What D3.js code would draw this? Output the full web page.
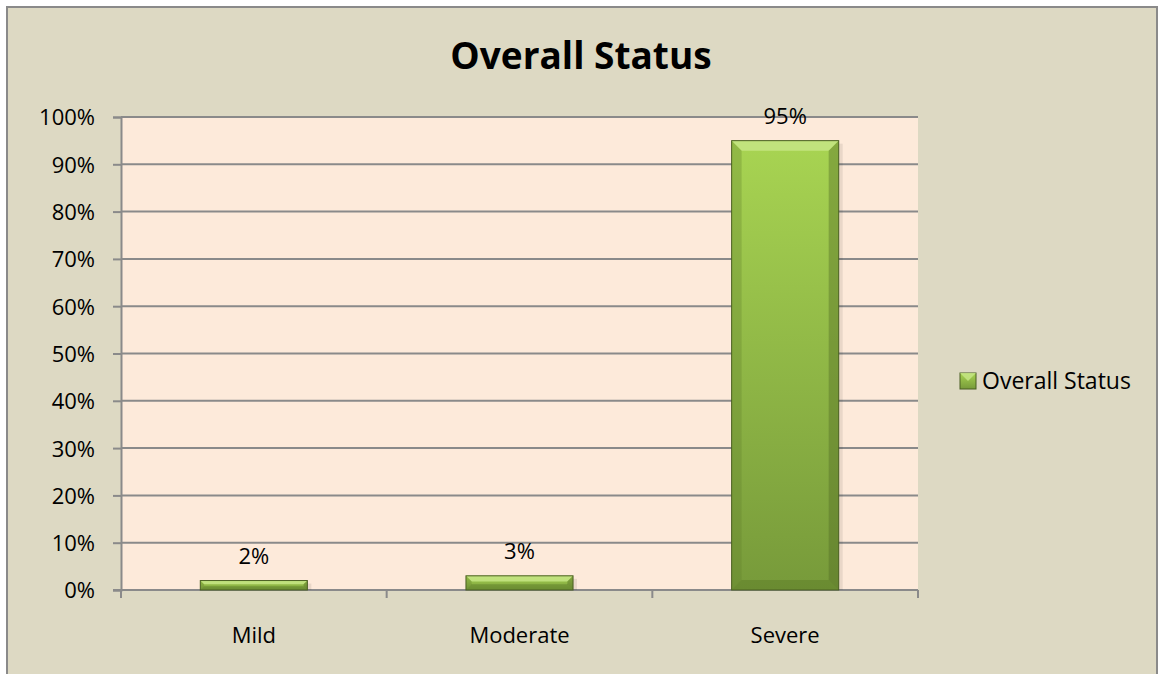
<!DOCTYPE html>
<html>
<head>
<meta charset="utf-8">
<script src="https://cdn.jsdelivr.net/npm/d3@7"></script>
<style>
  body { margin: 0; background: #fff; }
  svg text { font-family: "Open Sans", sans-serif; fill: #000; }
</style>
</head>
<body>
<svg id="chart" width="1158" height="674"></svg>
<script>
// chart data
var categories = ['Mild', 'Moderate', 'Severe'];
var values = [0.02, 0.03, 0.95];
var seriesName = 'Overall Status';
var yTicks = [0, 0.1, 0.2, 0.3, 0.4, 0.5, 0.6, 0.7, 0.8, 0.9, 1.0];

var frame = { left: 121, right: 918, top: 117, bottom: 590 };

var svg = d3.select('#chart');

var defs = svg.append('defs');
var grad = defs.append('linearGradient').attr('id', 'barFill')
  .attr('x1', 0).attr('y1', 0).attr('x2', 0).attr('y2', 1);
grad.append('stop').attr('offset', '0%').attr('stop-color', '#a8d452');
grad.append('stop').attr('offset', '100%').attr('stop-color', '#779a3a');

// outer chart box
svg.append('rect').attr('x', 0).attr('y', 0).attr('width', 1158).attr('height', 674).attr('fill', '#fff');
svg.append('rect').attr('x', 7).attr('y', 7).attr('width', 1150).attr('height', 700)
  .attr('fill', '#ddd9c3').attr('stroke', '#8a8a8a').attr('stroke-width', 2);

// plot area
svg.append('rect').attr('x', frame.left).attr('y', frame.top)
  .attr('width', frame.right - frame.left).attr('height', frame.bottom - frame.top)
  .attr('fill', '#fdeada');

var x = d3.scaleBand().domain(categories).range([frame.left, frame.right])
  .paddingInner(0.597).paddingOuter(0.2985);
var y = d3.scaleLinear().domain([0, 1]).range([frame.bottom, frame.top]);

// gridlines
svg.append('g').selectAll('line').data(yTicks.slice(1)).join('line')
  .attr('x1', frame.left).attr('x2', frame.right)
  .attr('y1', d => y(d)).attr('y2', d => y(d))
  .attr('stroke', '#8a8a8a').attr('stroke-width', 2);

// y axis
var yAxis = svg.append('g').attr('transform', 'translate(' + frame.left + ',0)')
  .call(d3.axisLeft(y).tickValues(yTicks).tickSize(8).tickPadding(18).tickFormat(d3.format('.0%')));
yAxis.selectAll('path, line').attr('stroke', '#8a8a8a').attr('stroke-width', 2);
yAxis.selectAll('text').style('font-size', '22px').attr('fill', '#000').attr('dy', '0.36em');

// x axis: baseline + boundary ticks
var step = x.step();
var bounds = d3.range(categories.length + 1).map(i => frame.left + i * step);
svg.append('line').attr('x1', frame.left - 8).attr('x2', frame.right)
  .attr('y1', frame.bottom).attr('y2', frame.bottom)
  .attr('stroke', '#8a8a8a').attr('stroke-width', 2);
svg.append('g').selectAll('line').data(bounds).join('line')
  .attr('x1', d => d).attr('x2', d => d)
  .attr('y1', frame.bottom).attr('y2', frame.bottom + 8)
  .attr('stroke', '#8a8a8a').attr('stroke-width', 2);
svg.append('g').selectAll('text').data(categories).join('text')
  .attr('x', d => x(d) + x.bandwidth() / 2).attr('y', frame.bottom + 53)
  .attr('text-anchor', 'middle').style('font-size', '22px').text(d => d);

// bars with bevel
var bev = 10;
var bars = svg.append('g').selectAll('g').data(categories).join('g');
bars.each(function(d, i) {
  var g = d3.select(this);
  var x0 = x(d), w = x.bandwidth(), y0 = y(values[i]), y1 = y(0), h = y1 - y0;
  var b = Math.min(bev, h / 2.5);
  g.append('rect').attr('x', x0 + w).attr('y', y0 + 3).attr('width', 4).attr('height', h - 3)
    .attr('fill', '#000').attr('opacity', 0.08);
  g.append('rect').attr('x', x0).attr('y', y0).attr('width', w).attr('height', h)
    .attr('fill', 'url(#barFill)');
  // top bevel
  g.append('path').attr('d', 'M' + x0 + ',' + y0 + 'H' + (x0 + w) + 'L' + (x0 + w - b) + ',' + (y0 + b) + 'H' + (x0 + b) + 'Z')
    .attr('fill', '#c6e585').attr('opacity', 0.85);
  // left bevel
  g.append('path').attr('d', 'M' + x0 + ',' + y0 + 'L' + (x0 + b) + ',' + (y0 + b) + 'V' + (y1 - b) + 'L' + x0 + ',' + y1 + 'Z')
    .attr('fill', '#5f7d2c').attr('opacity', 0.3);
  // right bevel
  g.append('path').attr('d', 'M' + (x0 + w) + ',' + y0 + 'L' + (x0 + w - b) + ',' + (y0 + b) + 'V' + (y1 - b) + 'L' + (x0 + w) + ',' + y1 + 'Z')
    .attr('fill', '#4f6a22').attr('opacity', 0.4);
  // bottom bevel
  g.append('path').attr('d', 'M' + x0 + ',' + y1 + 'L' + (x0 + b) + ',' + (y1 - b) + 'H' + (x0 + w - b) + 'L' + (x0 + w) + ',' + y1 + 'Z')
    .attr('fill', '#5a7a28').attr('opacity', 0.45);
  g.append('rect').attr('x', x0).attr('y', y0).attr('width', w).attr('height', h)
    .attr('fill', 'none').attr('stroke', '#4a5f22').attr('stroke-width', 1);
  g.append('text').attr('x', x0 + w / 2).attr('y', y0 - 17)
    .attr('text-anchor', 'middle').style('font-size', '22px')
    .text(d3.format('.0%')(values[i]));
});

// title
svg.append('text').attr('x', 581).attr('y', 69).attr('text-anchor', 'middle')
  .style('font-size', '37px').style('font-weight', 'bold').text(seriesName);

// legend
var lg = svg.append('g').attr('transform', 'translate(960,373)');
lg.append('rect').attr('width', 16).attr('height', 16).attr('fill', 'url(#barFill)')
  .attr('stroke', '#4a5f22').attr('stroke-width', 1);
lg.append('path').attr('d', 'M0,0H16L8,8Z').attr('fill', '#c6e585').attr('opacity', 0.85);
lg.append('text').attr('x', 22).attr('y', 16).style('font-size', '23px').text(seriesName);
</script>
</body>
</html>
